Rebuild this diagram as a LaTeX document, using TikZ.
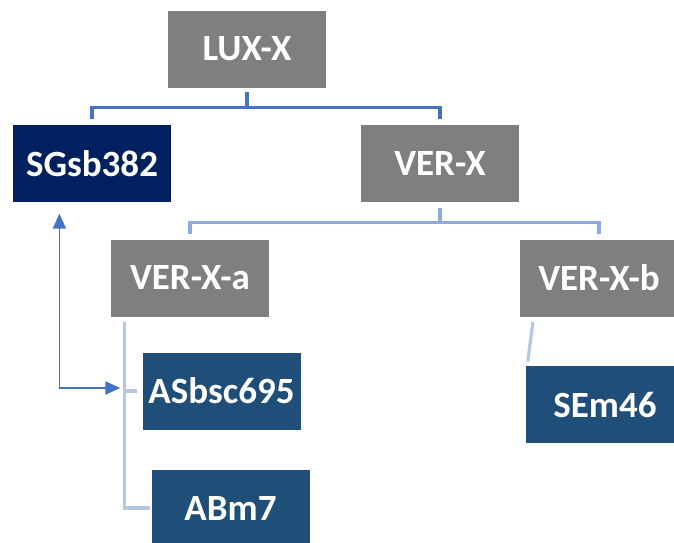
\documentclass[tikz,border=0pt]{standalone}
\usepackage{fontspec}
\setmainfont{Carlito}
\usetikzlibrary{arrows.meta}
\definecolor{boxgrey}{HTML}{7F7F7F}
\definecolor{navy}{HTML}{002060}
\definecolor{steel}{HTML}{1F4E79}
\definecolor{linkblue}{HTML}{4472C4}
\definecolor{linklight}{HTML}{8FAADC}
\definecolor{linkpale}{HTML}{B4C7E7}

\begin{document}
\begin{tikzpicture}[x=1pt,y=-1pt,>={Triangle[length=15pt,width=13pt]},line width=3.2pt,
  main node/.style={rectangle,minimum width=158pt,minimum height=77pt,inner sep=0pt,text=white,font=\fontsize{37}{44}\selectfont\bfseries},
  grey node/.style={main node,fill=boxgrey},
  blue node/.style={main node,fill=steel}]
    \useasboundingbox (0,0) rectangle (674,542);

    \node[grey node] (1) at (247,49) {LUX-X};
    \node[main node,fill=navy] (2) at (92,163.5) {SGsb382};
    \node[grey node] (3) at (440,163.5) {VER-X};
    \node[grey node] (4) at (190,278) {VER-X-a};
    \node[grey node] (5) at (599,278) {VER-X-b};
    \node[blue node] (6) at (221.5,391) {ASbsc695};
    \node[blue node] (7) at (605,404.5) {SEm46};
    \node[blue node] (8) at (230.5,508) {ABm7};

    % tree links
    \draw[linkblue,shorten <=3pt,shorten >=4pt] (1.south) -- ++(0,18) -| (2.north);
    \draw[linkblue,shorten <=3pt,shorten >=4pt] (1.south) -- ++(0,18) -| (3.north);
    \draw[linklight,shorten <=4pt,shorten >=4pt] (3.south) -- ++(0,19) -| (4.north);
    \draw[linklight,shorten <=4pt,shorten >=4pt] (3.south) -- ++(0,19) -| (5.north);
    \coordinate (4a) at ([xshift=15pt]4.south west);
    \draw[linkpale,shorten <=4pt] (4a) |- (8.west);
    \draw[linkpale,shorten >=4pt] (4a |- 6.west) -- (6.west);
    \draw[linkpale,shorten <=4pt,shorten >=3pt] ([xshift=15pt]5.south west) -- ([xshift=3pt]7.north west);

    % cross link
    \draw[linkblue,line width=1.8pt,<->,shorten <=10pt,shorten >=4pt] ([xshift=48pt]2.south west) |- ([yshift=3pt]4a |- 6.west);
\end{tikzpicture}
\end{document}
